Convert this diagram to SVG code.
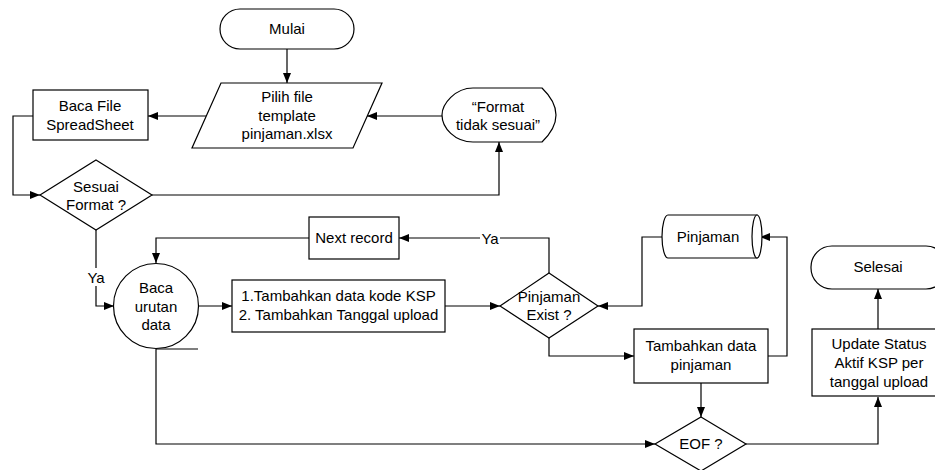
<svg xmlns="http://www.w3.org/2000/svg" width="935" height="470" viewBox="0 0 935 470">
<style>
.s{fill:#fff;stroke:#000;stroke-width:1.2}
.c{fill:none;stroke:#000;stroke-width:1.2}
text{font-family:"Liberation Sans",Arial,sans-serif;font-size:15px;fill:#000;text-anchor:middle}
</style>
<defs>
<marker id="a" markerUnits="userSpaceOnUse" markerWidth="11" markerHeight="9" refX="10" refY="4" orient="auto">
<path d="M0,0 L10,4 L0,8 z" fill="#000"/>
</marker>
</defs>
<rect width="935" height="470" fill="#fff"/>
<g id="connectors" class="c" marker-end="url(#a)">
<path class="c" d="M287,49 V83" marker-end="url(#a)"/>
<path class="c" d="M207,116 H148" marker-end="url(#a)"/>
<path class="c" d="M33,116 H13 V195 H40" marker-end="url(#a)"/>
<path class="c" d="M152,195 H499 V142" marker-end="url(#a)"/>
<path class="c" d="M442,116 H367" marker-end="url(#a)"/>
<path class="c" d="M96,230 V306 H114" marker-end="url(#a)"/>
<path class="c" d="M198,306 H232" marker-end="url(#a)"/>
<path class="c" d="M445,306 H500" marker-end="url(#a)"/>
<path class="c" d="M549,273 V238 H399" marker-end="url(#a)"/>
<path class="c" d="M309,238 H156 V263" marker-end="url(#a)"/>
<path class="c" d="M662,237 H642 V306 H598" marker-end="url(#a)"/>
<path class="c" d="M549,338 V356 H634" marker-end="url(#a)"/>
<path class="c" d="M768,356 H787 V237 H760" marker-end="url(#a)"/>
<path class="c" d="M701,383 V417" marker-end="url(#a)"/>
<path class="c" d="M156,349 V444 H655" marker-end="url(#a)"/>
<path class="c" d="M746,444 H878 V397" marker-end="url(#a)"/>
<path class="c" d="M878,329 V289" marker-end="url(#a)"/>
<rect x="86" y="268" width="20" height="18" fill="#fff" stroke="none"/>
<text x="96" y="283" stroke="none">Ya</text>
<rect x="480" y="230" width="20" height="17" fill="#fff" stroke="none"/>
<text x="490" y="244" stroke="none">Ya</text>
</g>
<g id="mulai">
<rect class="s" x="220" y="9" width="134" height="40" rx="20"/>
<text x="287" y="34">Mulai</text>
</g>
<g id="pilih-file">
<polygon class="s" points="221,83 382,83 353,148 192,148"/>
<text x="287" y="102">Pilih file</text>
<text x="287" y="120.5">template</text>
<text x="287" y="139">pinjaman.xlsx</text>
</g>
<g id="baca-file">
<rect class="s" x="33" y="90" width="115" height="50"/>
<text x="90" y="111">Baca File</text>
<text x="90" y="130">SpreadSheet</text>
</g>
<g id="format-tidak-sesuai">
<path class="s" d="M473,88 H542 Q570,115 542,142 H473 C455,142 442,128 442,115 C442,104 455,88 473,88 Z"/>
<text x="498" y="112">“Format</text>
<text x="498" y="130">tidak sesuai”</text>
</g>
<g id="sesuai-format">
<polygon class="s" points="96,160 152,195 96,230 40,195"/>
<text x="96" y="192">Sesuai</text>
<text x="96" y="210">Format ?</text>
</g>
<g id="baca-urutan">
<circle class="s" cx="156" cy="306" r="42.5"/>
<path class="c" d="M156,349 H198"/>
<text x="156" y="293">Baca</text>
<text x="156" y="312">urutan</text>
<text x="156" y="330">data</text>
</g>
<g id="next-record">
<rect class="s" x="309" y="217" width="90" height="42"/>
<text x="354" y="243">Next record</text>
</g>
<g id="tambahkan-kode">
<rect class="s" x="232" y="280" width="213" height="52"/>
<text x="338.5" y="301">1.Tambahkan data kode KSP</text>
<text x="338.5" y="320">2. Tambahkan Tanggal upload</text>
</g>
<g id="pinjaman-exist">
<polygon class="s" points="549,273 598,306 549,338 500,306"/>
<text x="549" y="302">Pinjaman</text>
<text x="549" y="320">Exist ?</text>
</g>
<g id="pinjaman-db">
<path class="s" d="M668,215 H757 V258 H668 A6,21.5 0 0 1 668,215 Z"/>
<ellipse class="s" cx="757" cy="236.5" rx="5" ry="21.5"/>
<text x="708" y="242">Pinjaman</text>
</g>
<g id="tambahkan-pinjaman">
<rect class="s" x="634" y="329" width="134" height="54"/>
<text x="701" y="351">Tambahkan data</text>
<text x="701" y="370">pinjaman</text>
</g>
<g id="eof">
<polygon class="s" points="701,417 746,444 701,471 655,444"/>
<text x="701" y="449">EOF ?</text>
</g>
<g id="update-status">
<rect class="s" x="812" y="329" width="134" height="67"/>
<text x="879" y="349">Update Status</text>
<text x="879" y="368">Aktif KSP per</text>
<text x="879" y="387">tanggal upload</text>
</g>
<g id="selesai">
<rect class="s" x="811" y="246" width="136" height="43" rx="21"/>
<text x="878" y="272">Selesai</text>
</g>
</svg>
